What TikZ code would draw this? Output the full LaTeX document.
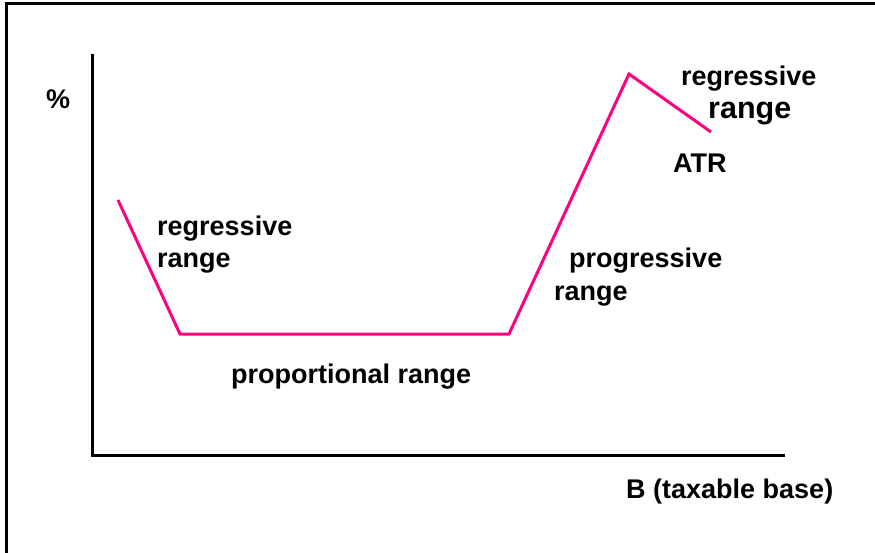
\documentclass[tikz,border=0pt]{standalone}
\usepackage{fontspec}
\setmainfont{Liberation Sans}
\definecolor{atrpink}{RGB}{255,0,128}
\begin{document}
\begin{tikzpicture}[x=1pt, y=-1pt,
    lbl/.style={anchor=base west, inner sep=0pt, font=\bfseries\fontsize{27}{32}\selectfont},
    biglbl/.style={lbl, font=\bfseries\fontsize{30.5}{36}\selectfont},
    atrline/.style={atrpink, line width=3pt, line join=miter}]
      \useasboundingbox (0,0) rectangle (875,553);
      % frame
      \draw[line width=3pt] (6,553) -- (6,4) -- (875,4);
      % axes
      \draw[line width=3pt] (92,54) -- (92,455) -- (785,455);
      \node[lbl] (pct) at (46,109) {\%};
      \node[lbl] (base) at (626,498) {B (taxable base)};
      % average tax rate
      \draw[atrline] (118,200) -- (180,334) -- (509,334) -- (629,74) -- (711,132);
      \node[lbl] (reg1) at (157,236) {regressive};
      \node[lbl] (reg1b) at (157,268) {range};
      \node[lbl] (prop) at (231,383) {proportional range};
      \node[lbl] (prog) at (569,268) {progressive};
      \node[lbl] (progb) at (554,301) {range};
      \node[lbl] (reg2) at (681,86) {regressive};
      \node[biglbl] (reg2b) at (708,119) {range};
      \node[lbl] (atr) at (673,173) {ATR};
    \end{tikzpicture}
\end{document}
